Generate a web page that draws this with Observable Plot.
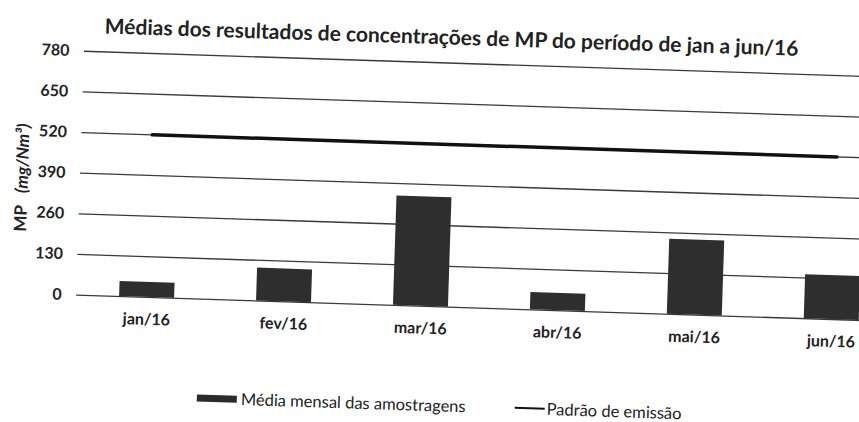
<!DOCTYPE html>
<html>
<head>
<meta charset="utf-8">
<script src="https://cdn.jsdelivr.net/npm/d3@7"></script>
<script src="https://cdn.jsdelivr.net/npm/@observablehq/plot@0.6"></script>
<style>
  html, body { margin:0; padding:0; background:#fff; overflow:hidden; width:859px; height:422px; }
  #fig { position:absolute; left:0; top:0; width:910px; height:422px; transform: rotate(1.85deg); transform-origin: 430px 211px; }
  #title { position:absolute; left:99px; top:23px; font: bold 21px Lato, sans-serif; color:#222; white-space:nowrap; }
  #chart { position:absolute; left:0; top:50px; }
  .leg { position:absolute; top:395px; height:20px; display:flex; align-items:center; font: 16.5px Lato, sans-serif; color:#222; white-space:nowrap; }
  .sw-bar { width:40px; height:7px; background:#2b2b2b; margin-right:4px; }
  .sw-line { width:30px; height:2px; background:#111; margin-right:2px; }
</style>
</head>
<body>
<div id="fig">
  <div id="title">Médias dos resultados de concentrações de MP do período de jan a jun/16</div>
  <div id="chart"></div>
  <div class="leg" style="left:203px"><div class="sw-bar"></div>Média mensal das amostragens</div>
  <div class="leg" style="left:521px"><div class="sw-line"></div>Padrão de emissão</div>
</div>
<script>
const months = ["jan/16","fev/16","mar/16","abr/16","mai/16","jun/16"];
const mediaMensal = [48, 105, 350, 55, 240, 140];
const padraoEmissao = [520, 520, 520, 520, 520, 520];
const yTicks = [0, 130, 260, 390, 520, 650, 780];

const bars = months.map((m, i) => ({m, v: mediaMensal[i]}));
const limit = months.map((m, i) => ({m, v: padraoEmissao[i]}));

const chart = Plot.plot({
  width: 910,
  height: 310,
  marginLeft: 79,
  marginRight: 6,
  marginTop: 12,
  marginBottom: 54,
  style: {fontFamily: "Lato, sans-serif", fontSize: "16px", fontWeight: "bold", background: "white", maxWidth: "none", color: "#222"},
  x: {domain: months, paddingInner: 0.6, paddingOuter: 0.3, tickSize: 0, tickPadding: 16, label: null},
  y: {domain: [0, 780], ticks: yTicks, tickSize: 0, tickPadding: 15, label: null},
  marks: [
    Plot.ruleY(yTicks, {stroke: "#3a3a3a", strokeWidth: 1.3}),
    Plot.barY(bars, {x: "m", y: "v", fill: "#2e2e2e"}),
    Plot.line(limit, {x: "m", y: "v", stroke: "#111", strokeWidth: 3.5}),
    Plot.text(["MP"], {frameAnchor: "left", textAnchor: "middle", rotate: -90, dx: -58, dy: 47, fontSize: 17, fontWeight: "bold"}),
    Plot.text(["(mg/Nm³)"], {frameAnchor: "left", textAnchor: "middle", rotate: -90, dx: -58, dy: -13, fontSize: 17, fontWeight: "bold", fontStyle: "italic"})
  ]
});
document.getElementById("chart").appendChild(chart);
</script>
</body>
</html>
